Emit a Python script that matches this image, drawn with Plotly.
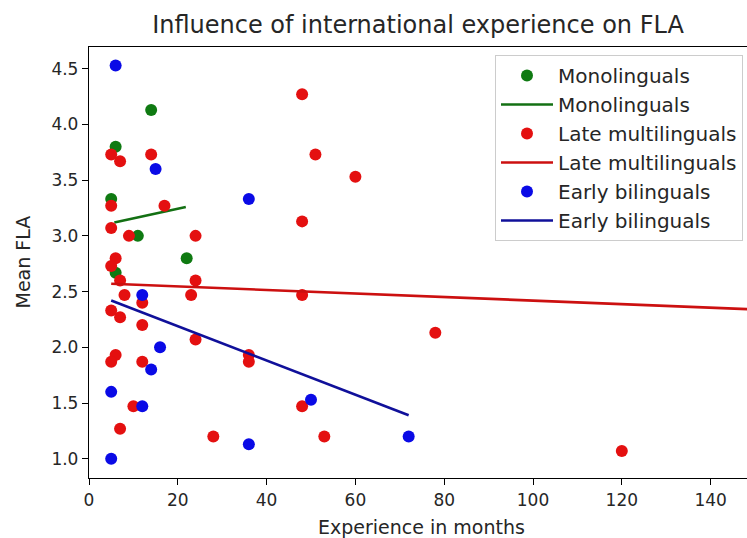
import plotly.graph_objects as go

# ---- data ----
mono_x = [5, 6, 14, 11, 22, 6]
mono_y = [3.33, 3.80, 4.13, 3.00, 2.80, 2.67]

late_x = [5, 7, 14, 5, 17, 5, 9, 24, 6, 5, 7, 24, 23, 8, 12, 5, 7, 12, 24,
          6, 5, 12, 36, 36, 10, 7, 28, 48, 51, 60, 48, 48, 78, 48, 53, 120]
late_y = [3.73, 3.67, 3.73, 3.27, 3.27, 3.07, 3.00, 3.00, 2.80, 2.73, 2.60, 2.60,
          2.47, 2.47, 2.40, 2.33, 2.27, 2.20, 2.07, 1.93, 1.87, 1.87, 1.93, 1.87,
          1.47, 1.27, 1.20, 4.27, 3.73, 3.53, 3.13, 2.47, 2.13, 1.47, 1.20, 1.07]

early_x = [6, 15, 36, 12, 16, 14, 5, 12, 36, 5, 50, 72]
early_y = [4.53, 3.60, 3.33, 2.47, 2.00, 1.80, 1.60, 1.47, 1.13, 1.00, 1.53, 1.20]

# fitted regression lines (end points)
mono_fit_x = [5.7, 21.8]
mono_fit_y = [3.12, 3.26]
late_fit_x = [5, 150]
late_fit_y = [2.57, 2.34]
early_fit_x = [5, 72]
early_fit_y = [2.42, 1.39]

FONT = "DejaVu Sans"
TXT = "#262626"

fig = go.Figure()

def pts(x, y, name, color, grp):
    fig.add_trace(go.Scatter(x=x, y=y, mode="markers", name=name,
                             legendgroup=grp + "p",
                             marker=dict(color=color, size=12, line=dict(width=0))))

def fit(x, y, name, color, grp):
    fig.add_trace(go.Scatter(x=x, y=y, mode="lines", name=name,
                             legendgroup=grp + "l",
                             line=dict(color=color, width=2.6)))

pts(mono_x, mono_y, "Monolinguals", "#0f7a12", "m")
fit(mono_fit_x, mono_fit_y, "Monolinguals", "#137013", "m")
pts(late_x, late_y, "Late multilinguals", "#e41010", "r")
fit(late_fit_x, late_fit_y, "Late multilinguals", "#cc1010", "r")
pts(early_x, early_y, "Early bilinguals", "#0a0ae6", "b")
fit(early_fit_x, early_fit_y, "Early bilinguals", "#10109a", "b")

W, H = 747, 538
L, R, T, B = 89, 0, 47, 60
PH = H - T - B
PW = W - L - R

fig.update_layout(
    width=W, height=H,
    margin=dict(l=L, r=R, t=T, b=B),
    paper_bgcolor="white", plot_bgcolor="white",
    font=dict(family=FONT, color=TXT),
    title=dict(text="Influence of international experience on FLA",
               font=dict(family=FONT, size=24, color=TXT),
               x=0.5, xref="paper", xanchor="center",
               y=1 - 25 / H, yref="container", yanchor="middle"),
    showlegend=True,
    legend=dict(x=(495 - L) / PW, y=(478 - 55) / PH, xanchor="left", yanchor="top",
                bordercolor="#cccccc", borderwidth=1, bgcolor="rgba(255,255,255,0.9)",
                font=dict(family=FONT, size=20, color=TXT),
                traceorder="grouped", tracegroupgap=0, itemwidth=52),
    xaxis=dict(range=[0, PW / 4.44], showgrid=False, zeroline=False,
               showline=True, linecolor="black", linewidth=1.3, mirror=True,
               ticks="outside", ticklen=6, tickwidth=1.2, tickcolor="black",
               tickvals=[0, 20, 40, 60, 80, 100, 120, 140],
               tickfont=dict(family=FONT, size=17, color=TXT)),
    yaxis=dict(range=[0.827, 4.695], showgrid=False, zeroline=False,
               showline=True, linecolor="black", linewidth=1.3, mirror=False,
               ticks="outside", ticklen=6, tickwidth=1.2, tickcolor="black",
               tickvals=[1.0, 1.5, 2.0, 2.5, 3.0, 3.5, 4.0, 4.5],
               ticktext=["1.0", "1.5", "2.0", "2.5", "3.0", "3.5", "4.0", "4.5"],
               tickfont=dict(family=FONT, size=17, color=TXT)),
    annotations=[
        dict(text="Experience in months", xref="paper", yref="paper",
             x=(421 - L) / PW, y=-(527 - 478) / PH, xanchor="center", yanchor="middle",
             showarrow=False, font=dict(family=FONT, size=19, color=TXT)),
        dict(text="Mean FLA", xref="paper", yref="paper",
             x=-(L - 22) / PW, y=0.5, xanchor="center", yanchor="middle",
             textangle=-90, showarrow=False, font=dict(family=FONT, size=19, color=TXT)),
    ],
)

fig.write_html("out.html",
               config={"displayModeBar": False},
               post_script="document.body.style.margin='0';document.body.style.overflow='hidden';")
